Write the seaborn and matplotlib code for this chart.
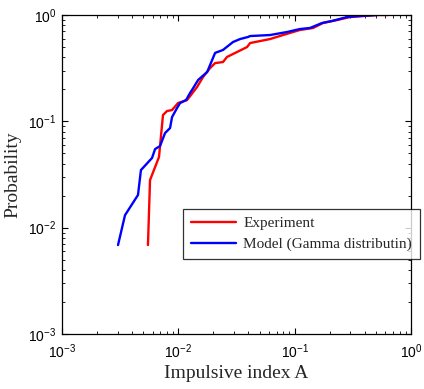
import matplotlib
matplotlib.use("Agg")
import matplotlib.pyplot as plt
import seaborn as sns
import pandas as pd
import numpy as np
from matplotlib.ticker import LogLocator, NullFormatter

sns.set_theme(style="ticks")
plt.rcParams['font.family'] = ['Liberation Serif', 'DejaVu Serif']
plt.rcParams['mathtext.fontset'] = 'custom'
plt.rcParams['mathtext.rm'] = 'Liberation Sans'
plt.rcParams['mathtext.it'] = 'Liberation Sans:italic'
plt.rcParams['mathtext.default'] = 'regular'

exp_x = [0.00548, 0.00571, 0.00682, 0.00738, 0.0080, 0.00883, 0.00994, 0.01188, 0.01449,
         0.0163, 0.01875, 0.0207, 0.0242, 0.0262, 0.0320, 0.0390, 0.0414, 0.0614, 0.0794,
         0.111, 0.144, 0.175, 0.232, 0.299, 0.511, 0.635]
exp_y = [0.00686, 0.0280, 0.0462, 0.1146, 0.125, 0.1277, 0.1486, 0.1585, 0.2104,
         0.261, 0.317, 0.353, 0.361, 0.403, 0.449, 0.500, 0.545, 0.594, 0.648,
         0.723, 0.755, 0.841, 0.897, 0.957, 1.0, 1.0]

mod_x = [0.00303, 0.00348, 0.00450, 0.00477, 0.00594, 0.00631, 0.00696, 0.00769, 0.00849,
         0.00883, 0.00975, 0.01035, 0.01165, 0.0126, 0.0131, 0.0148, 0.0177, 0.01875,
         0.0207, 0.0242, 0.0295, 0.0339, 0.0397, 0.0414, 0.0614, 0.0861, 0.111, 0.1355,
         0.172, 0.210, 0.282, 0.365, 0.511]
mod_y = [0.00686, 0.0131, 0.0203, 0.0348, 0.0452, 0.0548, 0.0586, 0.0776, 0.0865,
         0.1097, 0.1334, 0.1486, 0.1585, 0.1845, 0.197, 0.245, 0.291, 0.339,
         0.440, 0.469, 0.557, 0.594, 0.621, 0.634, 0.648, 0.692, 0.738, 0.755,
         0.841, 0.879, 0.957, 0.979, 1.0]

labels = ["Experiment", "Model (Gamma distributin)"]

df = pd.concat([
    pd.DataFrame({"x": exp_x, "y": exp_y, "series": labels[0]}),
    pd.DataFrame({"x": mod_x, "y": mod_y, "series": labels[1]}),
])

fig = plt.figure(figsize=(4.24, 3.89), dpi=100)
ax = fig.add_axes([62/424, 1-334/389, (411-62)/424, (334-15)/389])

sns.lineplot(data=df, x="x", y="y", hue="series", palette={labels[0]: "#ff0000", labels[1]: "#0000ff"},
             sort=False, estimator=None, units="series", linewidth=1.7, ax=ax, legend=True)

ax.set_xscale("log")
ax.set_yscale("log")
ax.set_xlim(1e-3, 1)
ax.set_ylim(1e-3, 1)
ax.xaxis.set_major_locator(LogLocator(base=10, numticks=10))
ax.yaxis.set_major_locator(LogLocator(base=10, numticks=10))
ax.xaxis.set_minor_locator(LogLocator(base=10, subs=np.arange(2, 10), numticks=20))
ax.yaxis.set_minor_locator(LogLocator(base=10, subs=np.arange(2, 10), numticks=20))
ax.xaxis.set_minor_formatter(NullFormatter())
ax.yaxis.set_minor_formatter(NullFormatter())
ax.tick_params(which="both", direction="in", top=True, right=True, colors="black",
               labelsize=10, labelfontfamily="Liberation Sans")
ax.tick_params(which="major", length=4, width=0.8)
ax.tick_params(which="minor", length=2.2, width=0.6)
ax.tick_params(axis="x", which="major", pad=6)
ax.tick_params(axis="y", which="major", pad=4)
for s in ax.spines.values():
    s.set_color("black")
    s.set_linewidth(0.9)

ax.set_xlabel("Impulsive index A", fontsize=14, labelpad=3)
ax.set_ylabel("Probability", fontsize=14, labelpad=5)

handles, lbls = ax.get_legend_handles_labels()
if ax.get_legend():
    ax.get_legend().remove()
leg = fig.legend(handles, lbls, loc="upper left", bbox_to_anchor=(183/424, 1-209/389),
                 borderaxespad=0, frameon=True, fancybox=False, edgecolor="black", fontsize=11,
                 handlelength=3.0, borderpad=0.5, labelspacing=0.45, handletextpad=0.45)
leg.get_frame().set_linewidth(0.9)

fig.savefig("out.png", dpi=100, facecolor="white")
